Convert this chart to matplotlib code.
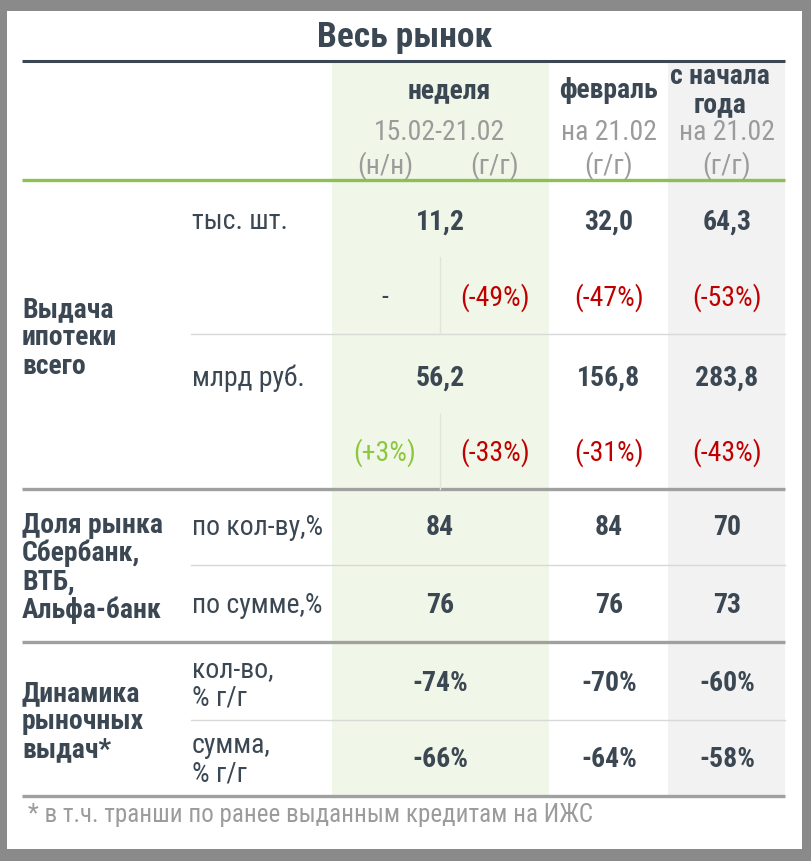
import matplotlib
matplotlib.use("Agg")
import matplotlib.pyplot as plt
from matplotlib.patches import Rectangle

plt.rcParams['font.family'] = ['Liberation Sans Narrow', 'DejaVu Sans Condensed', 'Roboto Condensed', 'DejaVu Sans']

# ---------------- data ----------------
title = "Весь рынок"
col_headers = ["неделя", "февраль", "с начала\nгода"]
col_dates = ["15.02-21.02", "на 21.02", "на 21.02"]
sub_labels = ["(н/н)", "(г/г)", "(г/г)", "(г/г)"]
groups = ["Выдача\nипотеки\nвсего", "Доля рынка\nСбербанк,\nВТБ,\nАльфа-банк", "Динамика\nрыночных\nвыдач*"]
units = ["тыс. шт.", "млрд руб.", "по кол-ву,%", "по сумме,%", "кол-во,\n% г/г", "сумма,\n% г/г"]
issue_count = ["11,2", "32,0", "64,3"]
count_changes = ["-", "(-49%)", "(-47%)", "(-53%)"]
issue_sum = ["56,2", "156,8", "283,8"]
sum_changes = ["(+3%)", "(-33%)", "(-31%)", "(-43%)"]
share_count = ["84", "84", "70"]
share_sum = ["76", "76", "73"]
dyn_count = ["-74%", "-70%", "-60%"]
dyn_sum = ["-66%", "-64%", "-58%"]
footnote = "* в т.ч. транши по ранее выданным кредитам на ИЖС"

# ---------------- style ----------------
DARK = "#3b4752"
GRAY_T = "#9b9b9b"
RED = "#c00000"
GREEN_T = "#8dc63f"
GREEN_BG = "#f1f7e8"
GRAY_BG = "#f2f2f2"
GREEN_LINE = "#8cc152"
THICK = "#a0a0a0"
LIGHT = "#d8d8d8"

W, H = 812, 862
fig = plt.figure(figsize=(W / 100, H / 100), dpi=100)
fig.patch.set_facecolor("#8a8a8a")
ax = fig.add_axes([0, 0, 1, 1])
ax.set_xlim(0, W)
ax.set_ylim(H, 0)
ax.axis("off")

# card
ax.add_patch(Rectangle((7, 12), 795, 838, facecolor="white", edgecolor="none", zorder=0))
# column backgrounds
ax.add_patch(Rectangle((332, 63), 217, 734, facecolor=GREEN_BG, edgecolor="none", zorder=1))
ax.add_patch(Rectangle((668, 63), 117, 734, facecolor=GRAY_BG, edgecolor="none", zorder=1))

L, R = 22, 785
# lines
ax.plot([L, R], [62, 62], color=DARK, lw=2.2, zorder=3, solid_capstyle="butt")
ax.plot([L, R], [181, 181], color=GREEN_LINE, lw=2.4, zorder=3, solid_capstyle="butt")
for y in (490, 643, 797):
    ax.plot([L, R], [y, y], color=THICK, lw=2.4, zorder=3, solid_capstyle="butt")
for y in (335, 566, 721):
    ax.plot([191, R], [y, y], color=LIGHT, lw=1.0, zorder=3)
for y0, y1 in ((258, 335), (415, 490)):
    ax.plot([440, 440], [y0, y1], color="#dfe6d8", lw=1.0, zorder=3)

# positions
xc = [440, 609, 727]           # column centres
xs = [385, 495, 609, 727]      # sub-column centres
FS = 20
LS = 1.05

def t(x, y, s, size=FS, color=DARK, weight="normal", ha="center", **kw):
    ax.text(x, y, s, fontsize=size, color=color, fontweight=weight, ha=ha, va="center", zorder=4, **kw)

t(405, 38, title, size=25.5, weight="bold")
t(449, 91, col_headers[0], weight="bold")
t(609, 91, col_headers[1], weight="bold")
t(720, 91, col_headers[2], weight="bold", linespacing=LS)
for x, s in zip(xc, col_dates):
    t(x, 133, s, color=GRAY_T)
for x, s in zip(xs, sub_labels):
    t(x, 166, s, color=GRAY_T)

# group labels
t(22, 338, groups[0], weight="bold", ha="left", linespacing=LS)
t(22, 568, groups[1], weight="bold", ha="left", linespacing=LS)
t(22, 722, groups[2], weight="bold", ha="left", linespacing=LS)

# unit labels
unit_y = [222, 378, 528, 606, 684, 760]
for y, s in zip(unit_y, units):
    t(192, y, s, ha="left", linespacing=LS)

# values
for x, s in zip(xc, issue_count):
    t(x, 222, s, weight="bold")
for x, s in zip(xs, count_changes):
    t(x, 298, s, color=DARK if s == "-" else RED)
for x, s in zip(xc, issue_sum):
    t(x, 378, s, weight="bold")
for x, s in zip(xs, sum_changes):
    t(x, 453, s, color=GREEN_T if s.startswith("(+") else RED)
for x, s in zip(xc, share_count):
    t(x, 528, s, weight="bold")
for x, s in zip(xc, share_sum):
    t(x, 606, s, weight="bold")
for x, s in zip(xc, dyn_count):
    t(x, 684, s, weight="bold")
for x, s in zip(xc, dyn_sum):
    t(x, 760, s, weight="bold")

t(28, 815, footnote, size=18, color=GRAY_T, ha="left")

fig.savefig("out.png", dpi=100, facecolor=fig.get_facecolor())
